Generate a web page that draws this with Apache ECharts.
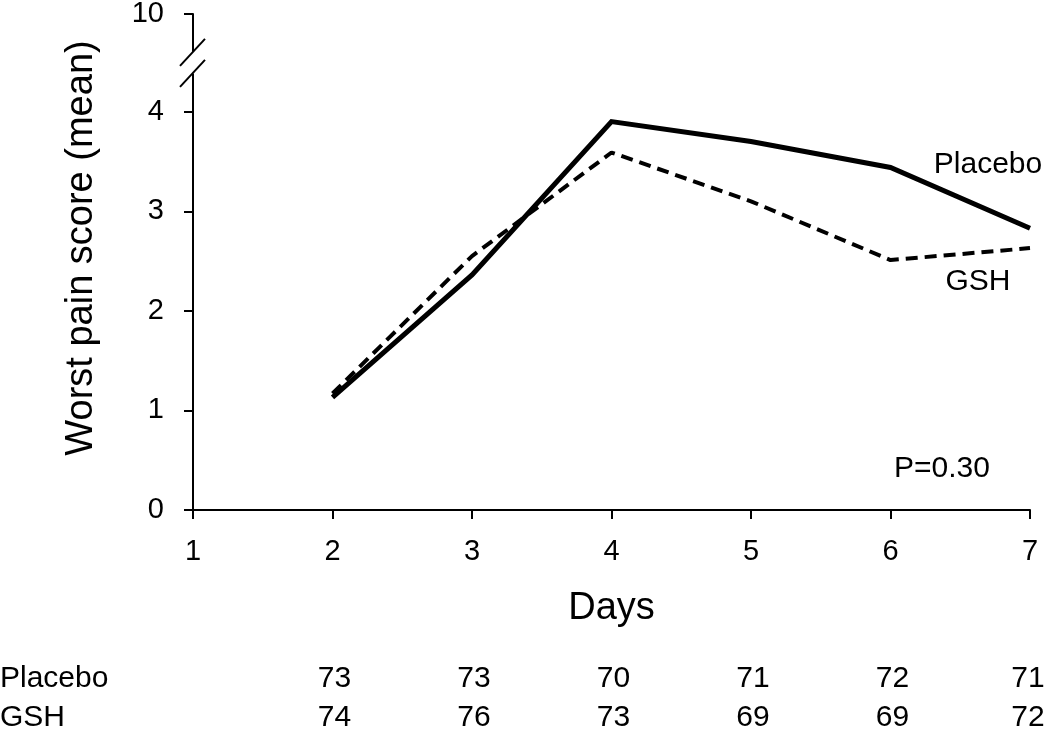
<!DOCTYPE html>
<html><head><meta charset="utf-8">
<script src="https://cdn.jsdelivr.net/npm/echarts@6/dist/echarts.min.js"></script>
<style>html,body{margin:0;padding:0;background:#fff}#c{width:1050px;height:733px}</style>
</head><body><div id="c"></div>
<script>
// ---- data ----
const days = [2, 3, 4, 5, 6, 7];
const placebo = [1.13, 2.36, 3.90, 3.70, 3.44, 2.83];
const gsh = [1.17, 2.55, 3.59, 3.10, 2.51, 2.63];
const xTicks = [1, 2, 3, 4, 5, 6, 7];
const yTicks = [0, 1, 2, 3, 4, 10];
const nPlacebo = [73, 73, 70, 71, 72, 71];
const nGSH = [74, 76, 73, 69, 69, 72];
const rowNames = ['Placebo', 'GSH'];
const breakStart = 4.39, breakEnd = 9.62;

const FONT = "'Liberation Sans', Arial, sans-serif";
const chart = echarts.init(document.getElementById('c'), null, {renderer: 'canvas'});

chart.setOption({
  animation: false,
  backgroundColor: '#fff',
  grid: {left: 193, right: 20, top: 14, bottom: 223, containLabel: false, outerBoundsMode: 'none'},
  xAxis: {
    type: 'value', min: 1, max: 7, interval: 1,
    name: 'Days', nameLocation: 'middle', nameGap: 80,
    nameTextStyle: {fontFamily: FONT, fontSize: 38, color: '#000'},
    axisLine: {show: true, onZero: false, lineStyle: {color: '#000', width: 2}},
    axisTick: {show: true, inside: false, length: 9, lineStyle: {color: '#000', width: 2}, customValues: xTicks},
    axisLabel: {color: '#000', fontFamily: FONT, fontSize: 29, margin: 27, customValues: xTicks},
    splitLine: {show: false}
  },
  yAxis: {
    type: 'value', min: 0, max: 10,
    breaks: [{start: breakStart, end: breakEnd, gap: 0.211}],
    breakArea: {show: true, expandOnClick: false, zigzagAmplitude: 0,
      itemStyle: {color: '#fff', borderColor: '#fff', borderWidth: 0, opacity: 1}},
    name: 'Worst pain score (mean)', nameLocation: 'middle', nameGap: 92,
    nameTextStyle: {fontFamily: FONT, fontSize: 38, color: '#000', padding: [0, 0, 0, 28]},
    axisLine: {show: true, onZero: false, lineStyle: {color: '#000', width: 2}},
    axisTick: {show: true, inside: false, length: 9, lineStyle: {color: '#000', width: 2}, customValues: yTicks},
    axisLabel: {color: '#000', fontFamily: FONT, fontSize: 29, margin: 29, customValues: yTicks},
    splitLine: {show: false}
  },
  series: [
    {name: 'Placebo', type: 'line', symbol: 'none', z: 3,
     data: days.map((d, i) => [d, placebo[i]]),
     lineStyle: {color: '#000', width: 5, type: 'solid', join: 'miter'}},
    {name: 'GSH', type: 'line', symbol: 'none', z: 4,
     data: days.map((d, i) => [d, gsh[i]]),
     lineStyle: {color: '#000', width: 4, type: [12, 7]}}
  ]
});

// decorations derived from the library's own scales
const x0 = chart.convertToPixel({xAxisIndex: 0}, 1);
const yS = chart.convertToPixel({yAxisIndex: 0}, breakStart);
const yE = chart.convertToPixel({yAxisIndex: 0}, breakEnd);
const g = [];
g.push({type: 'rect', z: 100, shape: {x: x0 - 4, y: yE, width: 8, height: yS - yE}, style: {fill: '#fff'}});
[yS, yE].forEach(y => {
  g.push({type: 'line', z: 101, shape: {x1: x0 - 13, y1: y + 14, x2: x0 + 12, y2: y - 13},
          style: {stroke: '#000', lineWidth: 2}});
});
const tStyle = (text, x, y, align) => ({type: 'text', z: 101, x: x, y: y,
  style: {text: text, fontFamily: FONT, fontSize: 30, fill: '#000', align: align, verticalAlign: 'middle'}});
const rowsY = [679, 718];
[nPlacebo, nGSH].forEach((row, r) => {
  g.push(tStyle(rowNames[r], 0, rowsY[r], 'left'));
  row.forEach((n, i) => {
    const px = chart.convertToPixel({xAxisIndex: 0}, days[i]);
    g.push(tStyle(String(n), Math.min(px + 2, 1028), rowsY[r], 'center'));
  });
});
g.push(tStyle('Placebo', 988, 165, 'center'));
g.push(tStyle('GSH', 978, 282, 'center'));
g.push(tStyle('P=0.30', 942, 469, 'center'));
chart.setOption({graphic: g});
</script>
</body></html>
